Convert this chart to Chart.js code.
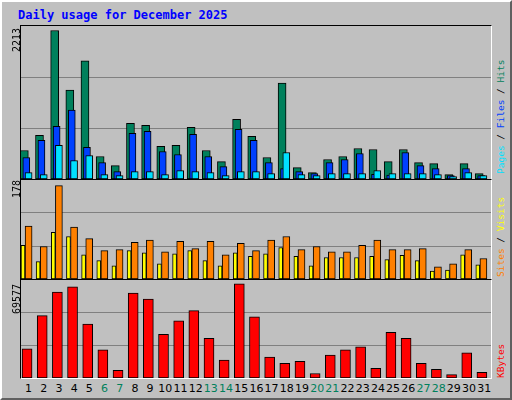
<!DOCTYPE html>
<html>
<head>
<meta charset="utf-8">
<script src="https://cdn.jsdelivr.net/npm/chart.js@4"></script>
<style>
  body { margin: 0; background: #fff; }
  #frame { position: absolute; left: 0; top: 0; width: 508px; height: 396px; background: #c0c0c0;
           border: 2px solid; border-color: #ffffff #606060 #606060 #ffffff; outline: 1px solid #000; font-family: "DejaVu Sans Mono", monospace; }
  .panel { position: absolute; left: 18px; width: 470px; border-top: 1px solid #000; border-left: 1px solid #000;
           border-right: 1px solid #fff; border-bottom: 1px solid #fff; }
  .panel canvas { position: absolute; left: 0; top: 0; }
  #title { position: absolute; left: 16px; top: 6px; font-weight: bold; font-size: 12px; color: #0000ff; }
  .vlab { position: absolute; transform-origin: left top; transform: rotate(-90deg); font-size: 10px; white-space: nowrap; }
  .rlab { font-size: 9.5px; }
  #days { position: absolute; left: 19px; top: 380px; width: 471px; display: flex; font-size: 11px; font-family: "DejaVu Sans", sans-serif; }
  #days span { flex: 1; text-align: center; }
</style>
</head>
<body>
<div id="frame">
  <div id="title">Daily usage for December 2025</div>
  <div class="panel" style="top:23px;height:153px"><canvas id="c1"></canvas></div>
  <div class="panel" style="top:177px;height:99px"><canvas id="c2"></canvas></div>
  <div class="panel" style="top:277px;height:98px"><canvas id="c3"></canvas></div>
  <div class="vlab" style="left:9px;top:50px">2213</div>
  <div class="vlab" style="left:9px;top:196px">178</div>
  <div class="vlab" style="left:9px;top:312px">69577</div>
  <div class="vlab rlab" style="left:493px;top:172px"><span style="color:#00e0ff">Pages</span><span style="color:#000"> / </span><span style="color:#0040ff">Files</span><span style="color:#000"> / </span><span style="color:#00805c">Hits</span></div>
  <div class="vlab rlab" style="left:493px;top:275px"><span style="color:#ff8000">Sites</span><span style="color:#000"> / </span><span style="color:#ffff00">Visits</span></div>
  <div class="vlab rlab" style="left:493px;top:376px"><span style="color:#ff0000">KBytes</span></div>
  <div id="days"></div>
</div>
<script>
// --- Data ---
const days = Array.from({ length: 31 }, (_, i) => i + 1);
const weekends = [6, 7, 13, 14, 20, 21, 27, 28];
const hits = [425, 650, 2213, 1326, 1761, 335, 200, 830, 800, 485, 500, 770, 425, 260, 890, 635,
              320, 1430, 170, 95, 290, 335, 455, 440, 260, 440, 245, 230, 65, 230, 80];
const files = [320, 575, 785, 1025, 470, 245, 110, 680, 710, 410, 365, 665, 335, 185, 740, 575,
               245, 155, 110, 80, 245, 290, 380, 70, 60, 395, 200, 155, 50, 155, 50];
const pages = [95, 65, 500, 275, 350, 65, 50, 110, 110, 65, 125, 110, 95, 50, 110, 110,
               80, 395, 65, 50, 80, 80, 80, 125, 80, 80, 80, 65, 35, 95, 50];
const sites = [64, 33, 89, 81, 46, 35, 25, 54, 50, 29, 48, 54, 35, 25, 50, 43,
               48, 60, 43, 25, 41, 41, 41, 43, 37, 45, 35, 15, 17, 46, 27];
const visits = [101, 62, 178, 99, 77, 54, 56, 70, 74, 52, 72, 58, 72, 46, 68, 54,
                74, 81, 56, 62, 52, 52, 64, 74, 56, 56, 58, 23, 29, 56, 39];
const kbytes = [21600, 46000, 63500, 67300, 39900, 20800, 5600, 62700, 58200, 32300, 42200, 49800, 29200, 13200, 69577, 45200,
                15500, 10900, 12400, 3300, 17000, 20800, 23100, 7100, 33800, 29200, 10900, 6400, 2500, 18500, 4100];

// day labels
const daysEl = document.getElementById('days');
days.forEach(d => {
    const s = document.createElement('span');
    s.textContent = d;
    s.style.color = weekends.includes(d) ? '#00805c' : '#000';
    daysEl.appendChild(s);
});

function series(values, offset, color, width, order) {
    return {
        data: values.map((v, i) => ({ x: days[i] + offset, y: v })),
        backgroundColor: color,
        borderColor: '#000',
        borderWidth: 1,
        borderSkipped: false,
        barThickness: width,
        grouped: false,
        order: order
    };
}

function panel(id, w, h, datasets, max) {
    const cv = document.getElementById(id);
    cv.width = w; cv.height = h;
    new Chart(cv, {
        type: 'bar',
        data: { datasets: datasets },
        options: {
            responsive: false,
            animation: false,
            layout: { padding: 0 },
            plugins: { legend: { display: false }, tooltip: { enabled: false } },
            scales: {
                x: { type: 'linear', min: 0.5, max: 31.5, offset: false, display: false },
                y: {
                    min: 0, max: max,
                    afterBuildTicks: axis => { axis.ticks = [1, 2].map(k => ({ value: max * k / 3 })); },
                    ticks: { display: false },
                    border: { display: false },
                    grid: { color: '#808080', lineWidth: 1, drawTicks: false }
                }
            }
        }
    });
}

panel('c1', 470, 153, [
    series(pages, 0.0, '#00e0ff', 7, 0),
    series(files, -0.15, '#0040ff', 7, 1),
    series(hits, -0.28, '#00805c', 8, 2)
], 2213 * 1.03);

panel('c2', 470, 99, [
    series(visits, 0.0, '#ff8000', 7, 0),
    series(sites, -0.37, '#ffff00', 4, 1)
], 178 * 1.06);

panel('c3', 470, 98, [
    series(kbytes, -0.1, '#ff0000', 10, 0)
], 69577 * 1.04);
</script>
</body>
</html>
